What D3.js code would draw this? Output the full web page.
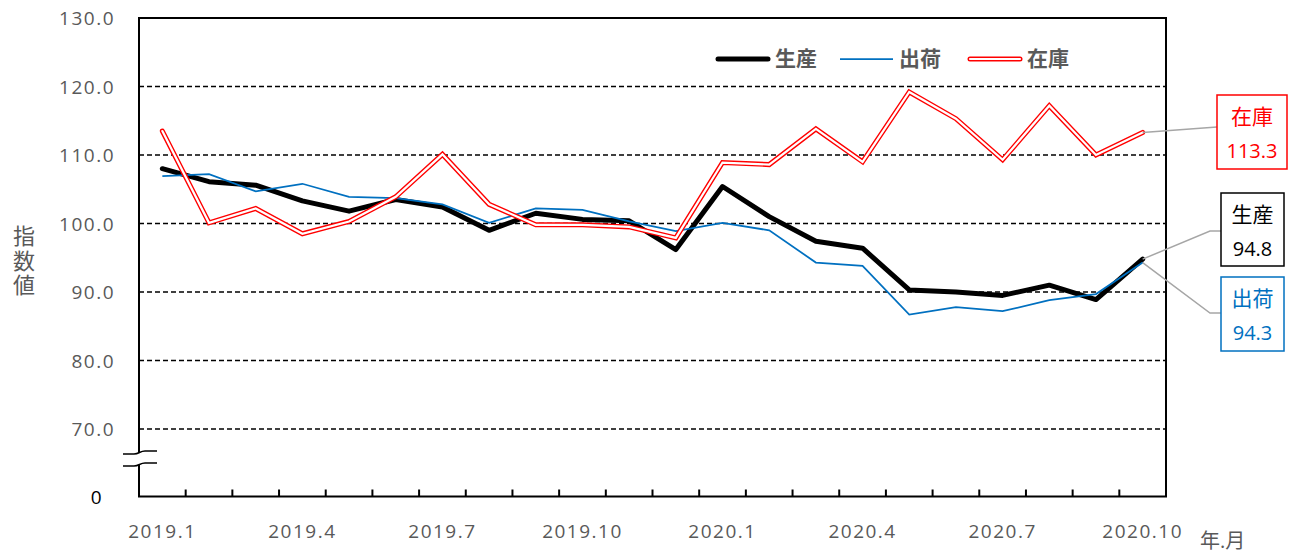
<!DOCTYPE html>
<html>
<head>
<meta charset="utf-8">
<script src="https://cdn.jsdelivr.net/npm/d3@7"></script>
<style>
  body { margin: 0; background: #fff; }
  text { font-family: "Open Sans", "Noto Sans CJK JP", sans-serif; }
</style>
</head>
<body>
<svg id="chart" width="1290" height="553"></svg>
<script>
// months 2019.1 - 2020.10
const months = [
  "2019.1", "2019.2", "2019.3", "2019.4", "2019.5", "2019.6",
  "2019.7", "2019.8", "2019.9", "2019.10", "2019.11", "2019.12",
  "2020.1", "2020.2", "2020.3", "2020.4", "2020.5", "2020.6",
  "2020.7", "2020.8", "2020.9", "2020.10",
];
const tickLabels = ["2019.1", "2019.4", "2019.7", "2019.10", "2020.1", "2020.4", "2020.7", "2020.10"];
const yTicks = [0, 70, 80, 90, 100, 110, 120, 130];

// 生産
const production = [
  108.0, 106.1, 105.6, 103.3, 101.8, 103.5, 102.4, 99.0, 101.5, 100.6, 100.4, 96.2,
  105.4, 101.0, 97.4, 96.4, 90.3, 90.0, 89.5, 91.0, 88.9, 94.8,
];
// 出荷
const shipments = [
  106.9, 107.2, 104.7, 105.8, 103.9, 103.7, 102.8, 100.1, 102.2, 102.0, 100.3, 98.9,
  100.1, 99.0, 94.3, 93.8, 86.7, 87.8, 87.2, 88.8, 89.7, 94.3,
];
// 在庫
const inventory = [
  113.5, 100.1, 102.2, 98.5, 100.3, 103.9, 110.1, 102.8, 99.8, 99.8, 99.5, 97.9,
  108.9, 108.6, 113.8, 109.0, 119.2, 115.3, 109.3, 117.2, 110.0, 113.3,
];

const gray = "#595959";
const blue = "#0070C0";
const red = "#FF0000";

const svg = d3.select("#chart");

// plot area
const plot = { left: 139, right: 1166, top: 18, bottom: 496.5 };

const x = d3.scaleBand().domain(months).range([plot.left, plot.right]);
// broken axis: 0..70 squeezed into the bottom strip
const y = d3.scaleLinear().domain([0, 70, 130]).range([plot.bottom, 429, plot.top]);
const cx = (i) => x(months[i]) + x.bandwidth() / 2;

// gridlines
svg.append("g")
  .selectAll("line")
  .data(yTicks.filter((d) => d >= 70))
  .join("line")
  .attr("x1", plot.left)
  .attr("x2", plot.right)
  .attr("y1", (d) => y(d))
  .attr("y2", (d) => y(d))
  .attr("stroke", "#000")
  .attr("stroke-width", 1.3)
  .attr("stroke-dasharray", "5,3");

// frame
svg.append("rect")
  .attr("x", plot.left)
  .attr("y", plot.top)
  .attr("width", plot.right - plot.left)
  .attr("height", plot.bottom - plot.top)
  .attr("fill", "none")
  .attr("stroke", "#000")
  .attr("stroke-width", 2);

// inner tick marks between months
svg.append("g")
  .selectAll("line")
  .data(months.slice(1))
  .join("line")
  .attr("x1", (d) => x(d))
  .attr("x2", (d) => x(d))
  .attr("y1", plot.bottom)
  .attr("y2", plot.bottom - 7)
  .attr("stroke", "#000")
  .attr("stroke-width", 2);

// y axis labels
const yAxis = svg.append("g")
  .attr("transform", `translate(${plot.left},0)`)
  .call(d3.axisLeft(y).tickValues(yTicks).tickSize(0).tickPadding(24)
    .tickFormat((d) => (d === 0 ? "0" : d.toFixed(1))));
yAxis.select(".domain").remove();
yAxis.selectAll("text")
  .attr("fill", (d) => (d === 0 ? "#000" : gray))
  .attr("font-size", 19)
  .attr("letter-spacing", "1.5px")
  .attr("font-family", null)
  .attr("x", (d) => (d === 0 ? -36 : -24))
  .attr("dy", "0.35em");

// x axis labels
const xAxis = svg.append("g")
  .attr("transform", `translate(0,${plot.bottom})`)
  .call(d3.axisBottom(x).tickValues(tickLabels).tickSize(0).tickPadding(0));
xAxis.select(".domain").remove();
xAxis.selectAll("text")
  .attr("fill", gray)
  .attr("font-size", 19)
  .attr("letter-spacing", "1.5px")
  .attr("font-family", null)
  .attr("y", 35)
  .attr("dy", "0.35em");

// axis break
const breakG = svg.append("g");
const wave = (yy) => `M123,${yy} L134,${yy} C139,${yy} 140,${yy - 3} 145,${yy - 3} L157,${yy - 3}`;
breakG.append("path")
  .attr("d", `M123,454 L134,454 C139,454 140,451 145,451 L157,451 L157,463 L145,463 C140,463 139,466 134,466 L123,466 Z`)
  .attr("fill", "#fff");
[454, 466].forEach((yy) => {
  breakG.append("path")
    .attr("d", wave(yy))
    .attr("fill", "none")
    .attr("stroke", "#000")
    .attr("stroke-width", 1.5);
});

// axis titles (vertical, stacked characters)
svg.append("text")
  .attr("x", 23)
  .attr("y", 225)
  .attr("fill", gray)
  .attr("font-size", 22)
  .style("writing-mode", "vertical-rl")
  .style("text-orientation", "upright")
  .attr("letter-spacing", "2.5px")
  .text("指数値");

svg.append("text")
  .attr("x", 1200)
  .attr("y", 541)
  .attr("dy", "0.35em")
  .attr("fill", gray)
  .attr("font-size", 20)
  .text("年.月");

// series lines
const line = d3.line().x((d, i) => cx(i)).y((d) => y(d));

svg.append("path")
  .datum(production)
  .attr("d", line)
  .attr("fill", "none")
  .attr("stroke", "#000")
  .attr("stroke-width", 5)
  .attr("stroke-linejoin", "round")
  .attr("stroke-linecap", "round");

svg.append("path")
  .datum(shipments)
  .attr("d", line)
  .attr("fill", "none")
  .attr("stroke", blue)
  .attr("stroke-width", 1.75);

svg.append("path")
  .datum(inventory)
  .attr("d", line)
  .attr("fill", "none")
  .attr("stroke", red)
  .attr("stroke-width", 5)
  .attr("stroke-linecap", "round");
svg.append("path")
  .datum(inventory)
  .attr("d", line)
  .attr("fill", "none")
  .attr("stroke", "#fff")
  .attr("stroke-width", 2.2)
  .attr("stroke-linecap", "round");

// legend
const legend = svg.append("g").attr("transform", "translate(0,59)");
const legendItems = [
  { name: "生産", x: 716, kind: "prod" },
  { name: "出荷", x: 840, kind: "ship" },
  { name: "在庫", x: 968, kind: "inv" },
];
legendItems.forEach((it) => {
  if (it.kind === "prod") {
    legend.append("line").attr("x1", it.x + 2).attr("x2", it.x + 52)
      .attr("stroke", "#000").attr("stroke-width", 5).attr("stroke-linecap", "round");
  } else if (it.kind === "ship") {
    legend.append("line").attr("x1", it.x).attr("x2", it.x + 53)
      .attr("stroke", blue).attr("stroke-width", 1.75);
  } else {
    legend.append("line").attr("x1", it.x + 2).attr("x2", it.x + 52)
      .attr("stroke", red).attr("stroke-width", 5).attr("stroke-linecap", "round");
    legend.append("line").attr("x1", it.x + 2).attr("x2", it.x + 52)
      .attr("stroke", "#fff").attr("stroke-width", 2.2).attr("stroke-linecap", "round");
  }
  legend.append("text")
    .attr("x", it.x + 59)
    .attr("dy", "0.35em")
    .attr("fill", gray)
    .attr("font-size", 21)
    .attr("font-weight", "bold")
    .text(it.name);
});

// callouts for the last month
const last = months.length - 1;
const callouts = [
  { name: "在庫", value: inventory[last], color: red, box: [1217, 95, 70, 74], elbow: null },
  { name: "生産", value: production[last], color: "#000", box: [1221, 193, 63, 73], elbow: [1210, 231] },
  { name: "出荷", value: shipments[last], color: blue, box: [1221, 277, 63, 74], elbow: [1210, 313] },
];
callouts.forEach((c) => {
  const [bx, by, bw, bh] = c.box;
  const px = cx(last), py = y(c.value);
  const pts = c.elbow ? [[px, py], c.elbow, [bx, c.elbow[1]]] : [[px, py], [bx, by + bh / 2 - 5]];
  svg.append("path")
    .attr("d", d3.line()(pts))
    .attr("fill", "none")
    .attr("stroke", "#A6A6A6")
    .attr("stroke-width", 1.5);
  svg.append("rect")
    .attr("x", bx).attr("y", by).attr("width", bw).attr("height", bh)
    .attr("fill", "#fff")
    .attr("stroke", c.color)
    .attr("stroke-width", 1.5);
  svg.append("text")
    .attr("x", bx + bw / 2).attr("y", by + 22)
    .attr("dy", "0.35em")
    .attr("text-anchor", "middle")
    .attr("fill", c.color)
    .attr("font-size", 21)
    .text(c.name);
  svg.append("text")
    .attr("x", bx + bw / 2).attr("y", by + 56)
    .attr("dy", "0.35em")
    .attr("text-anchor", "middle")
    .attr("fill", c.color)
    .attr("font-size", 20)
    .text(c.value.toFixed(1));
});
</script>
</body>
</html>
